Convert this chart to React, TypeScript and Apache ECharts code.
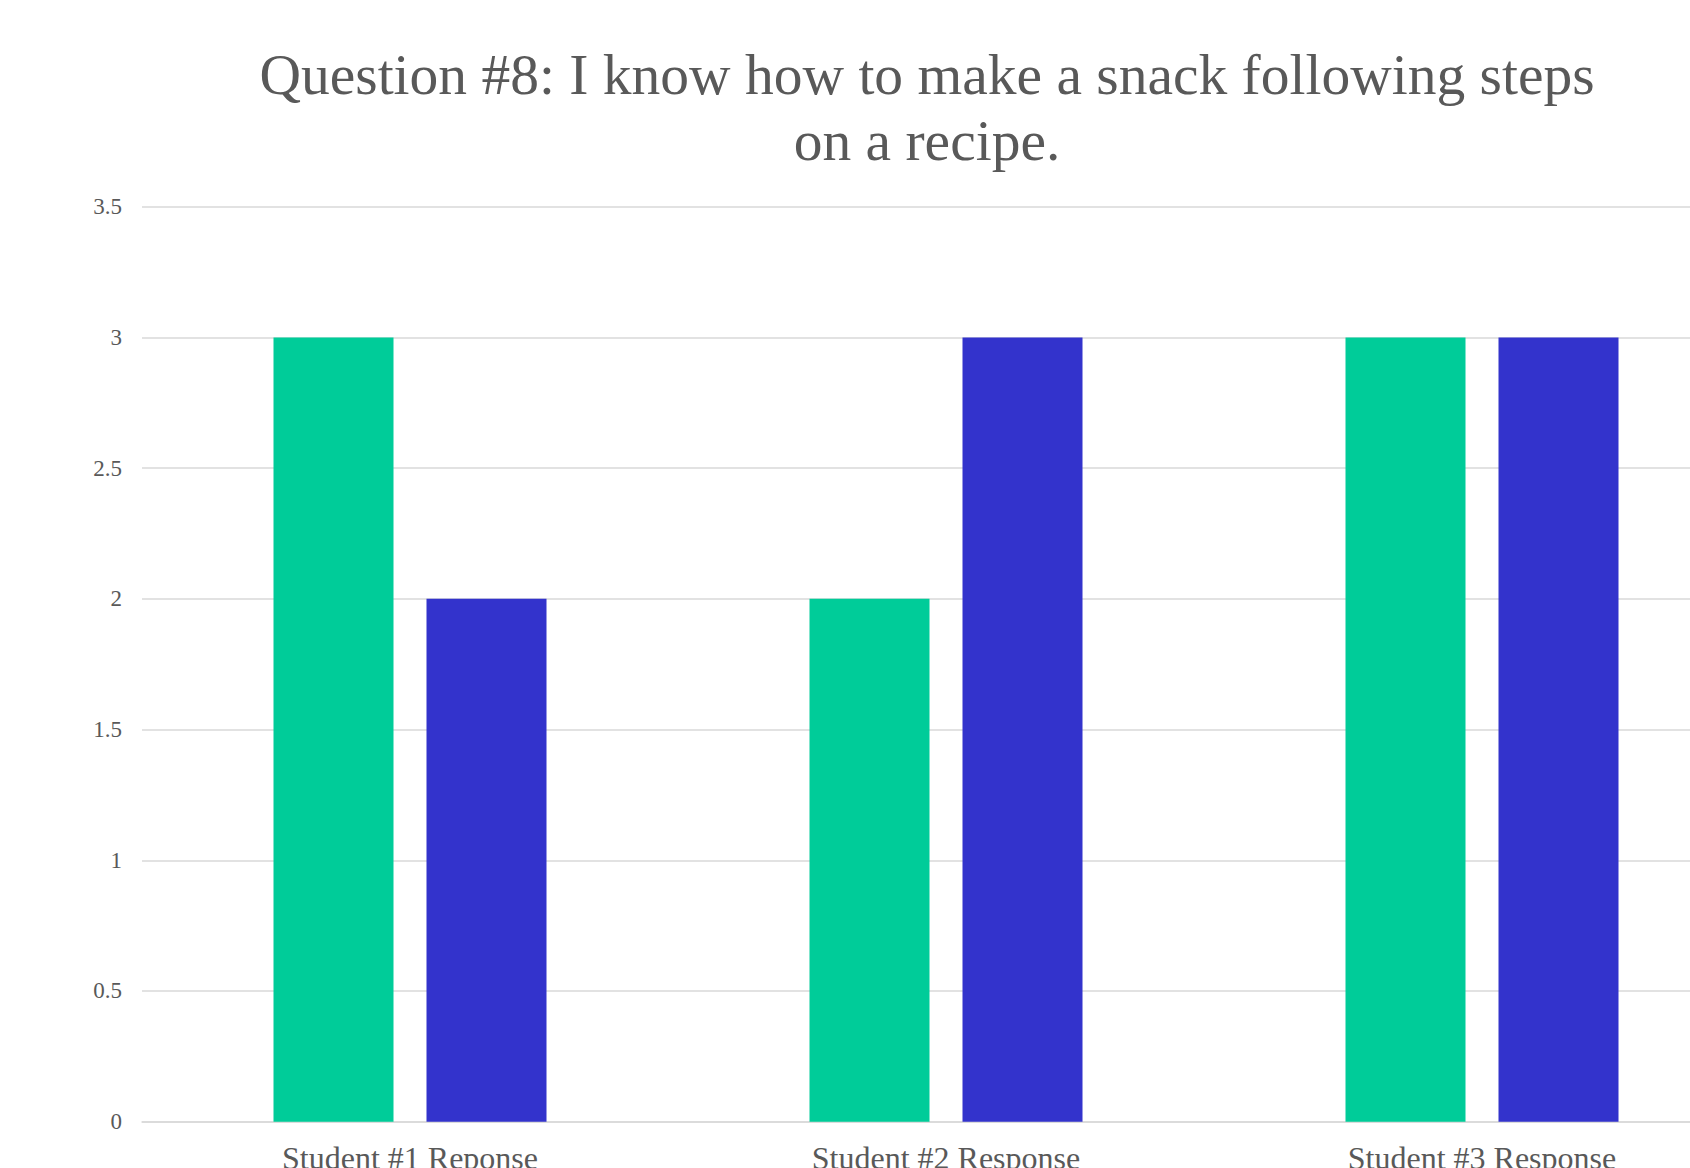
import React, { useEffect, useRef } from "react";
import * as echarts from "echarts";

const categories = ["Student #1 Reponse", "Student #2 Response", "Student #3 Response"];
const seriesA = [3, 2, 3];
const seriesB = [2, 3, 3];
const titleText = "Question #8: I know how to make a snack following steps\non a recipe.";

const FONT = "'Times New Roman', 'Liberation Serif', serif";

export default function App() {
  const ref = useRef<HTMLDivElement>(null);
  useEffect(() => {
    document.body.style.margin = "0";
    document.body.style.overflow = "hidden";
    const chart = echarts.init(ref.current!, null, { renderer: "svg" });
    chart.setOption({
      animation: false,
      backgroundColor: "#ffffff",
      title: {
        text: titleText,
        left: 922,
        top: 36,
        textAlign: "center",
        textStyle: {
          fontFamily: FONT,
          fontSize: 57.5,
          fontWeight: "normal",
          color: "#595959",
          lineHeight: 66,
        },
      },
      grid: {
        left: 142,
        right: 10,
        top: 206.7,
        bottom: 46.3,
        containLabel: false,
        outerBoundsMode: "none",
      },
      xAxis: {
        type: "category",
        data: categories,
        axisLine: { lineStyle: { color: "#D9D9D9", width: 1.5 } },
        axisTick: { show: false },
        axisLabel: { fontFamily: FONT, fontSize: 32, color: "#595959", margin: 20 },
      },
      yAxis: {
        type: "value",
        min: 0,
        max: 3.5,
        interval: 0.5,
        axisLine: { show: false },
        axisTick: { show: false },
        splitLine: { lineStyle: { color: "#D9D9D9", width: 1.5 } },
        axisLabel: { fontFamily: FONT, fontSize: 23, color: "#595959", margin: 20 },
      },
      series: [
        {
          type: "bar",
          data: seriesA,
          barWidth: 120,
          barGap: "27.5%",
          itemStyle: { color: "#00CC99" },
        },
        {
          type: "bar",
          data: seriesB,
          barWidth: 120,
          barGap: "27.5%",
          itemStyle: { color: "#3333CC" },
        },
      ],
    });
    return () => chart.dispose();
  }, []);
  return (
    <div style={{ position: "fixed", left: 0, top: 0, width: 1690, height: 1168, overflow: "hidden" }}>
      <div ref={ref} style={{ position: "absolute", left: 0, top: 0, width: 1760, height: 1168 }} />
    </div>
  );
}
